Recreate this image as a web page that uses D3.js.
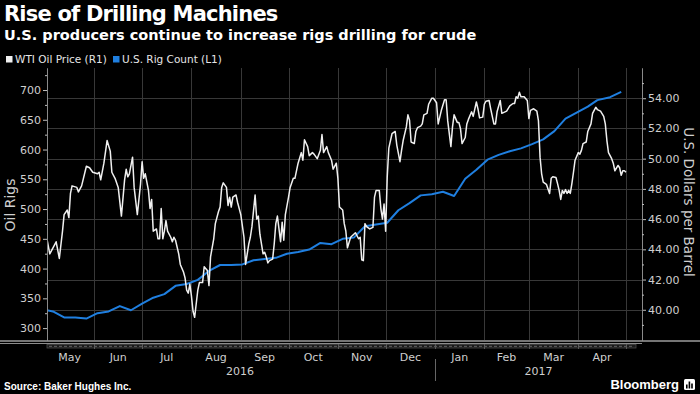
<!DOCTYPE html>
<html>
<head>
<meta charset="utf-8">
<script src="https://cdn.jsdelivr.net/npm/d3@7"></script>
<style>
    body { margin: 0; background: #000; }
    svg { display: block; }
</style>
</head>
<body>
<div id="chart"></div>
<script>
// U.S. oil rig count, weekly (left axis)
const rigDates = ["2016-04-29","2016-05-06","2016-05-13","2016-05-20","2016-05-27","2016-06-03","2016-06-10","2016-06-17","2016-06-24",
    "2016-07-01","2016-07-08","2016-07-15","2016-07-22","2016-07-29","2016-08-05","2016-08-12","2016-08-19","2016-08-26",
    "2016-09-02","2016-09-09","2016-09-16","2016-09-23","2016-09-30","2016-10-07","2016-10-14","2016-10-21","2016-10-28",
    "2016-11-04","2016-11-11","2016-11-18","2016-11-25","2016-12-02","2016-12-09","2016-12-16","2016-12-23","2016-12-30",
    "2017-01-06","2017-01-13","2017-01-20","2017-01-27","2017-02-03","2017-02-10","2017-02-17","2017-02-24",
    "2017-03-03","2017-03-10","2017-03-17","2017-03-24","2017-03-31","2017-04-07","2017-04-13","2017-04-21","2017-04-28"];
const rigCounts = [332,328,318,318,316,325,328,337,330,
    341,351,357,371,374,381,396,406,406,
    407,414,416,418,425,428,432,443,441,
    450,452,471,474,477,498,510,523,525,
    529,522,551,566,583,591,597,602,
    609,617,631,652,662,672,683,688,697];

// WTI oil price (right axis)
const wtiSeries = [
    ["2016-05-02",44.8],["2016-05-04",43.7],["2016-05-08",44.5],["2016-05-10",43.4],["2016-05-12",45.2],["2016-05-13",46.3],["2016-05-15",46.6],["2016-05-16",46.1],["2016-05-17",47.7],["2016-05-18",48.2],["2016-05-21",48.1],["2016-05-22",47.8],["2016-05-24",48.2],["2016-05-27",49.5],["2016-05-29",49.4],["2016-05-31",49.1],
    ["2016-06-03",49.0],["2016-06-04",49.1],["2016-06-05",48.6],["2016-06-07",49.7],["2016-06-09",51.2],["2016-06-11",50.5],["2016-06-12",49.1],["2016-06-14",48.7],["2016-06-16",48.1],["2016-06-18",46.2],["2016-06-20",48.6],["2016-06-21",49.3],["2016-06-22",48.8],["2016-06-23",49.0],["2016-06-25",50.1],["2016-06-26",48.1],["2016-06-28",46.3],["2016-06-30",48.3],
    ["2016-07-01",49.8],["2016-07-02",48.7],["2016-07-03",49.0],["2016-07-05",47.9],["2016-07-06",46.7],["2016-07-07",47.3],["2016-07-08",45.2],["2016-07-10",45.35],["2016-07-11",44.7],["2016-07-12",44.7],["2016-07-13",46.7],["2016-07-14",44.7],["2016-07-15",45.2],["2016-07-16",45.9],["2016-07-17",45.2],["2016-07-19",44.8],["2016-07-20",44.5],["2016-07-21",44.8],["2016-07-22",44.6],["2016-07-24",43.7],["2016-07-25",43.0],["2016-07-27",42.5],["2016-07-28",42.1],["2016-07-29",41.3],["2016-07-30",41.1],["2016-07-31",41.7],
    ["2016-08-01",40.9],["2016-08-02",39.9],["2016-08-03",39.5],["2016-08-04",40.4],["2016-08-05",41.3],["2016-08-06",41.8],["2016-08-08",41.8],["2016-08-09",42.85],["2016-08-11",42.6],["2016-08-12",41.6],["2016-08-13",43.5],["2016-08-15",44.7],["2016-08-16",45.7],["2016-08-18",46.5],["2016-08-19",46.8],["2016-08-20",48.1],["2016-08-21",48.4],["2016-08-23",48.1],["2016-08-24",46.9],["2016-08-25",47.45],["2016-08-26",46.8],["2016-08-27",47.45],["2016-08-29",47.6],["2016-08-30",47.1],
    ["2016-09-01",46.3],["2016-09-03",44.8],["2016-09-04",43.0],["2016-09-06",44.35],["2016-09-07",44.8],["2016-09-08",45.5],["2016-09-10",47.6],["2016-09-11",46.0],["2016-09-12",46.2],["2016-09-13",45.0],["2016-09-15",43.7],["2016-09-16",43.8],["2016-09-17",43.5],["2016-09-18",43.1],["2016-09-19",43.25],["2016-09-21",43.35],["2016-09-22",44.35],["2016-09-23",45.7],["2016-09-24",46.2],["2016-09-26",44.5],["2016-09-27",45.8],["2016-09-28",44.6],["2016-09-29",46.3],
    ["2016-10-01",47.45],["2016-10-02",48.1],["2016-10-04",48.7],["2016-10-05",48.7],["2016-10-07",49.7],["2016-10-09",50.4],["2016-10-10",49.9],["2016-10-11",51.25],["2016-10-13",50.8],["2016-10-14",50.2],["2016-10-16",50.4],["2016-10-17",50.3],["2016-10-19",50.0],["2016-10-21",50.55],["2016-10-22",51.6],["2016-10-23",50.4],["2016-10-25",50.8],["2016-10-26",50.4],["2016-10-28",49.9],["2016-10-29",49.3],["2016-10-31",49.7],
    ["2016-11-01",48.7],["2016-11-02",46.8],["2016-11-04",46.6],["2016-11-05",45.7],["2016-11-06",45.2],["2016-11-07",44.1],["2016-11-09",44.8],["2016-11-10",44.9],["2016-11-12",45.1],["2016-11-14",44.7],["2016-11-15",44.8],["2016-11-16",43.3],["2016-11-17",43.25],["2016-11-18",45.7],["2016-11-19",45.5],["2016-11-21",45.35],["2016-11-23",45.45],["2016-11-24",47.45],["2016-11-25",47.9],["2016-11-27",47.9],["2016-11-28",46.7],["2016-11-29",46.0],["2016-11-30",47.0],
    ["2016-12-01",45.2],["2016-12-02",48.8],["2016-12-03",50.7],["2016-12-05",51.65],["2016-12-07",51.8],["2016-12-08",50.9],["2016-12-10",49.8],["2016-12-11",50.55],["2016-12-12",51.2],["2016-12-14",52.1],["2016-12-15",52.9],["2016-12-16",52.55],["2016-12-17",51.1],["2016-12-19",51.0],["2016-12-20",51.8],["2016-12-21",52.05],["2016-12-23",52.15],["2016-12-24",52.3],["2016-12-25",52.9],["2016-12-27",53.0],["2016-12-28",53.6],["2016-12-30",54.0],["2016-12-31",54.0],
    ["2017-01-02",53.7],["2017-01-03",52.3],["2017-01-05",53.2],["2017-01-07",53.9],["2017-01-08",53.9],["2017-01-09",52.5],["2017-01-11",50.8],["2017-01-12",52.1],["2017-01-13",52.9],["2017-01-15",52.4],["2017-01-16",52.4],["2017-01-17",52.0],["2017-01-18",51.0],["2017-01-20",51.4],["2017-01-21",52.3],["2017-01-22",52.6],["2017-01-24",53.1],["2017-01-25",52.8],["2017-01-27",53.75],["2017-01-28",53.3],["2017-01-29",52.7],["2017-01-31",52.75],
    ["2017-02-01",53.6],["2017-02-02",53.8],["2017-02-04",53.85],["2017-02-05",53.3],["2017-02-07",52.3],["2017-02-08",52.3],["2017-02-09",53.1],["2017-02-11",53.85],["2017-02-12",53.0],["2017-02-14",53.1],["2017-02-15",53.15],["2017-02-17",53.5],["2017-02-19",53.65],["2017-02-20",53.65],["2017-02-21",54.1],["2017-02-22",54.0],["2017-02-23",54.4],["2017-02-24",54.1],["2017-02-26",54.1],["2017-02-28",53.85],
    ["2017-03-01",52.65],["2017-03-02",53.2],["2017-03-04",53.3],["2017-03-06",53.15],["2017-03-07",52.5],["2017-03-08",50.1],["2017-03-09",49.0],["2017-03-10",48.45],["2017-03-12",48.3],["2017-03-13",48.0],["2017-03-14",47.7],["2017-03-15",48.7],["2017-03-16",48.8],["2017-03-18",48.75],["2017-03-19",48.35],["2017-03-20",47.9],["2017-03-21",47.3],["2017-03-22",47.9],["2017-03-23",47.7],["2017-03-24",47.95],["2017-03-25",47.7],["2017-03-26",47.9],["2017-03-27",47.7],["2017-03-28",48.35],["2017-03-29",49.1],["2017-03-30",49.9],
    ["2017-04-01",50.4],["2017-04-02",50.3],["2017-04-03",50.55],["2017-04-04",51.0],["2017-04-06",51.1],["2017-04-07",51.8],["2017-04-09",52.3],["2017-04-10",53.0],["2017-04-12",53.4],["2017-04-13",53.25],["2017-04-15",53.15],["2017-04-17",52.8],["2017-04-18",52.3],["2017-04-19",51.2],["2017-04-20",50.4],["2017-04-22",50.0],["2017-04-23",49.7],["2017-04-24",49.2],["2017-04-26",49.55],["2017-04-27",49.4],["2017-04-28",48.9],["2017-04-29",49.2],["2017-04-30",49.2],["2017-05-01",49.1]
];

const leftTicks = [300, 350, 400, 450, 500, 550, 600, 650, 700];
const rightTicks = [40, 42, 44, 46, 48, 50, 52, 54];
const monthLabels = ["May","Jun","Jul","Aug","Sep","Oct","Nov","Dec","Jan","Feb","Mar","Apr"];
const yearLabels = ["2016", "2017"];
const legendItems = ["WTI Oil Price (R1)", "U.S. Rig Count (L1)"];

const parseDate = d3.timeParse("%Y-%m-%d");

function main() {
    const rigs = rigDates.map(function(d, i) { return {date: parseDate(d), value: rigCounts[i]}; });
    const wti = wtiSeries.map(function(d) { return {date: parseDate(d[0]), value: d[1]}; });
    drawChart(rigs, wti);
}

function drawChart(rigs, wti) {
    const width = 700, height = 394;
    const plot = {left: 47, right: 642, top: 68, bottom: 340};
    const labelColor = "#cfcfcf";
    const tickFont = "DejaVu Sans, sans-serif";

    const svg = d3.select("#chart")
        .append("svg")
        .attr("width", width)
        .attr("height", height)
        .style("background", "#000");

    // scales
    const xScale = d3.scaleTime()
        .domain([parseDate("2016-05-01"), parseDate("2017-05-01")])
        .range([45, 626]);
    const yLeft = d3.scaleLinear().domain([280, 737]).range([plot.bottom, plot.top]);
    const yRight = d3.scaleLinear().domain([38, 56]).range([plot.bottom, plot.top]);

    const months = d3.timeMonth.range(parseDate("2016-05-01"), parseDate("2017-05-01"));
    const monthStarts = d3.timeMonth.range(parseDate("2016-06-01"), parseDate("2017-05-02"));

    // grid
    svg.append("g")
        .selectAll("line")
        .data(rightTicks)
        .enter()
        .append("line")
        .attr("x1", plot.left).attr("x2", plot.right)
        .attr("y1", function(d) { return Math.round(yRight(d)) + 0.5; })
        .attr("y2", function(d) { return Math.round(yRight(d)) + 0.5; })
        .style("stroke", "#383838");
    svg.append("g")
        .selectAll("line")
        .data(monthStarts)
        .enter()
        .append("line")
        .attr("x1", function(d) { return Math.round(xScale(d)) + 0.5; })
        .attr("x2", function(d) { return Math.round(xScale(d)) + 0.5; })
        .attr("y1", plot.top).attr("y2", plot.bottom)
        .style("stroke", "#383838");

    // clip for the lines
    svg.append("clipPath").attr("id", "plotClip")
        .append("rect")
        .attr("x", plot.left).attr("y", plot.top)
        .attr("width", plot.right - plot.left).attr("height", plot.bottom - plot.top);

    const rigLine = d3.line()
        .x(function(d) { return xScale(d.date); })
        .y(function(d) { return yLeft(d.value); });
    const wtiLine = d3.line()
        .x(function(d) { return xScale(d.date); })
        .y(function(d) { return yRight(d.value); });

    svg.append("path")
        .datum(rigs)
        .attr("clip-path", "url(#plotClip)")
        .attr("d", rigLine)
        .style("fill", "none")
        .style("stroke", "#1f7fe0")
        .style("stroke-width", 2)
        .style("stroke-linejoin", "round");

    svg.append("path")
        .datum(wti)
        .attr("clip-path", "url(#plotClip)")
        .attr("d", wtiLine)
        .style("fill", "none")
        .style("stroke", "#f0f0f0")
        .style("stroke-width", 1.5)
        .style("stroke-linejoin", "round");

    // left axis
    svg.append("g")
        .attr("class", "axis")
        .attr("transform", `translate(${plot.left}, 0)`)
        .call(d3.axisLeft(yLeft).tickValues(leftTicks).tickSize(4).tickSizeOuter(0).tickPadding(2));
    svg.append("g")
        .attr("class", "axis minor")
        .attr("transform", `translate(${plot.left}, 0)`)
        .call(d3.axisLeft(yLeft)
            .tickValues(d3.range(325, 737, 50))
            .tickSize(2).tickSizeOuter(0).tickFormat(""));

    // right axis
    svg.append("g")
        .attr("class", "axis")
        .attr("transform", `translate(${plot.right}, 0)`)
        .call(d3.axisRight(yRight).tickValues(rightTicks).tickFormat(d3.format(".2f"))
            .tickSize(4).tickSizeOuter(0).tickPadding(2));
    svg.append("g")
        .attr("class", "axis minor")
        .attr("transform", `translate(${plot.right}, 0)`)
        .call(d3.axisRight(yRight)
            .tickValues(d3.range(39, 57, 2))
            .tickSize(2).tickSizeOuter(0).tickFormat(""));

    svg.selectAll(".axis path.domain").style("stroke", "#8a8a8a");
    svg.selectAll(".axis line").style("stroke", "#bdbdbd");
    svg.selectAll(".axis text")
        .style("fill", labelColor)
        .style("font-family", tickFont)
        .style("font-size", "11px");

    // bottom rails and navigator strip
    svg.append("line")
        .attr("x1", 0).attr("x2", width).attr("y1", 341).attr("y2", 341)
        .style("stroke", "#9c9c9c").style("stroke-width", 1.3);
    svg.append("line")
        .attr("x1", 0).attr("x2", plot.right).attr("y1", 343.5).attr("y2", 343.5)
        .style("stroke", "#8c8c8c").style("stroke-width", 1.2);
    svg.append("rect")
        .attr("x", plot.left).attr("y", 344.5)
        .attr("width", xScale(parseDate("2017-05-01")) + 10 - plot.left).attr("height", 3.5)
        .style("fill", "#1a1a1a").style("stroke", "#4a4a4a").style("stroke-width", 0.8);
    svg.append("line")
        .attr("x1", plot.left + 2).attr("x2", xScale(parseDate("2017-05-01")) + 8)
        .attr("y1", 346.3).attr("y2", 346.3)
        .style("stroke", "#7a7a7a").style("stroke-width", 0.8).style("stroke-dasharray", "3,2");

    // month ticks below the strip
    svg.append("g")
        .selectAll("line")
        .data(monthStarts)
        .enter()
        .append("line")
        .attr("x1", function(d) { return Math.round(xScale(d)) + 0.5; })
        .attr("x2", function(d) { return Math.round(xScale(d)) + 0.5; })
        .attr("y1", 344).attr("y2", 349)
        .style("stroke", "#5a5a5a");

    // month labels, centred in each month
    svg.append("g")
        .selectAll("text")
        .data(months)
        .enter()
        .append("text")
        .attr("x", function(d) {
            const next = d3.timeMonth.offset(d, 1);
            return (xScale(d) + xScale(next)) / 2;
        })
        .attr("y", 361)
        .attr("text-anchor", "middle")
        .style("fill", labelColor)
        .style("font-family", tickFont)
        .style("font-size", "11px")
        .text(function(d, i) { return monthLabels[i]; });

    // year labels and separator
    const yearStart = xScale(parseDate("2017-01-01"));
    const yearCentres = [(xScale(parseDate("2016-05-01")) + yearStart) / 2, (yearStart + plot.right) / 2];
    svg.append("g")
        .selectAll("text")
        .data(yearLabels)
        .enter()
        .append("text")
        .attr("x", function(d, i) { return yearCentres[i]; })
        .attr("y", 375)
        .attr("text-anchor", "middle")
        .style("fill", labelColor)
        .style("font-family", tickFont)
        .style("font-size", "11px")
        .text(function(d) { return d; });
    svg.append("line")
        .attr("x1", Math.round(yearStart) + 0.5).attr("x2", Math.round(yearStart) + 0.5)
        .attr("y1", 359).attr("y2", 381)
        .style("stroke", "#666");

    // axis titles
    svg.append("text")
        .attr("transform", "translate(15, 205) rotate(-90)")
        .attr("text-anchor", "middle")
        .style("fill", labelColor)
        .style("font-family", tickFont)
        .style("font-size", "14px")
        .text("Oil Rigs");
    svg.append("text")
        .attr("transform", "translate(684, 202) rotate(90)")
        .attr("text-anchor", "middle")
        .style("fill", labelColor)
        .style("font-family", tickFont)
        .style("font-size", "13.5px")
        .text("U.S. Dollars per Barrel");

    // title block
    svg.append("text")
        .attr("x", 4).attr("y", 21)
        .style("fill", "#fff")
        .style("font-family", "DejaVu Sans, sans-serif")
        .style("font-weight", "bold")
        .style("font-size", "21px")
        .style("letter-spacing", "-0.8px")
        .text("Rise of Drilling Machines");
    svg.append("text")
        .attr("x", 4).attr("y", 40)
        .style("fill", "#fff")
        .style("font-family", "DejaVu Sans, sans-serif")
        .style("font-weight", "bold")
        .style("font-size", "14.5px")
        .text("U.S. producers continue to increase rigs drilling for crude");

    // legend
    const legendColors = ["#f0f0f0", "#1f7fe0"];
    const legendX = [6, 113];
    const legend = svg.append("g")
        .selectAll("g")
        .data(legendItems)
        .enter()
        .append("g")
        .attr("transform", function(d, i) { return `translate(${legendX[i]}, 56)`; });
    legend.append("rect")
        .attr("width", 6.5).attr("height", 6.5)
        .style("fill", function(d, i) { return legendColors[i]; });
    legend.append("text")
        .attr("x", 9).attr("y", 7)
        .style("fill", "#e6e6e6")
        .style("font-family", tickFont)
        .style("font-size", "10.5px")
        .text(function(d) { return d; });

    // footer
    svg.append("text")
        .attr("x", 4).attr("y", 390)
        .style("fill", "#fff")
        .style("font-family", "Liberation Sans, Arial, sans-serif")
        .style("font-weight", "bold")
        .style("font-size", "10px")
        .text("Source: Baker Hughes Inc.");
    svg.append("text")
        .attr("x", 679).attr("y", 389)
        .attr("text-anchor", "end")
        .style("fill", "#fff")
        .style("font-family", "Liberation Sans, Arial, sans-serif")
        .style("font-weight", "bold")
        .style("font-size", "13px")
        .text("Bloomberg");
    const logo = svg.append("g").attr("transform", "translate(684, 379)");
    logo.append("rect").attr("width", 11).attr("height", 11).attr("rx", 1.5).style("fill", "#fff");
    logo.selectAll(".bar")
        .data([4, 7, 5])
        .enter()
        .append("rect")
        .attr("x", function(d, i) { return 2 + i * 2.6; })
        .attr("y", function(d) { return 9.5 - d; })
        .attr("width", 1.6)
        .attr("height", function(d) { return d; })
        .style("fill", "#000");
}

main();
</script>
</body>
</html>
